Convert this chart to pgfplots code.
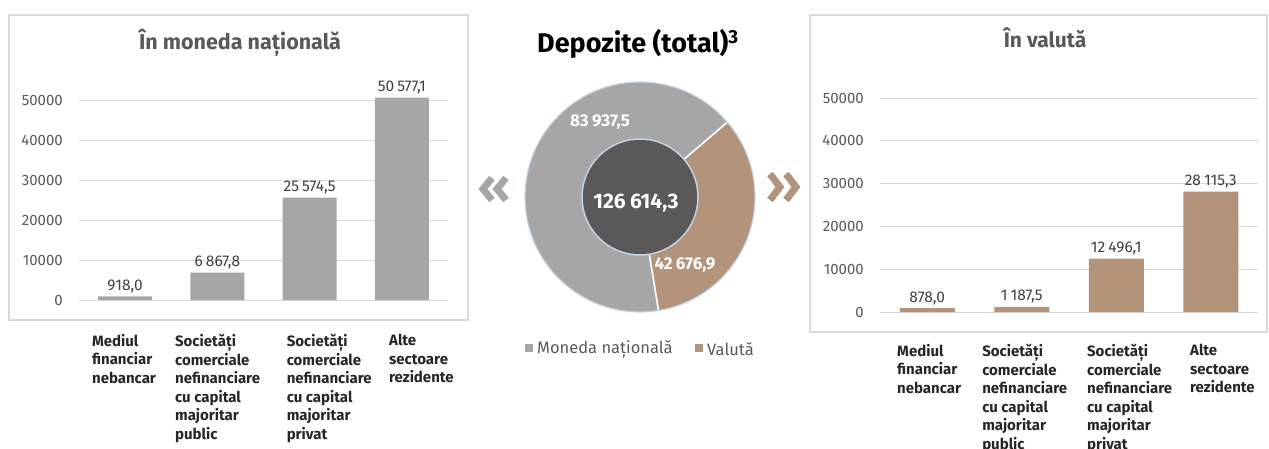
\documentclass[border=0pt]{standalone}
\usepackage{fontspec}
\setmainfont{Fira Sans}
\usepackage{xfp}
\usepackage{pgfplots}
\pgfplotsset{compat=1.18}

\definecolor{barGrey}{HTML}{A6A6A6}
\definecolor{barBrown}{HTML}{B4937B}
\definecolor{innerDark}{HTML}{595959}
\definecolor{outl}{HTML}{C3D3E3}
\definecolor{gridc}{HTML}{D9D9D9}
\definecolor{boxc}{HTML}{D9D9D9}
\definecolor{tickc}{HTML}{595959}
\definecolor{labc}{HTML}{404040}
\definecolor{catc}{HTML}{262626}
\definecolor{titlec}{HTML}{595959}

\pgfplotsset{
  barchart/.style={
    scale only axis, anchor=south west, clip=false,
    xmin=-0.5, xmax=3.5, ymin=0, ymax=50000,
    axis line style={draw=none}, major tick length=0pt, tick style={draw=none},
    ymajorgrids, grid style={draw=gridc, line width=0.9pt},
    ytick={0,10000,20000,30000,40000,50000},
    scaled y ticks=false,
    /pgf/number format/assume math mode=true,
    yticklabel style={font=\fontsize{15}{18}\selectfont, text=tickc, inner sep=0pt, anchor=east, xshift=-16pt,
      /pgf/number format/fixed, /pgf/number format/1000 sep={}},
    xticklabel style={font=\bfseries\fontsize{15}{18.5}\selectfont, text=catc, anchor=north west, align=left, inner sep=0pt},
    nodes near coords style={font=\fontsize{15.5}{18}\selectfont, text=labc},
  },
  barplot/.style={ybar, draw=none, fill=#1,
    nodes near coords={\pgfmathprintnumber[fixed, fixed zerofill, precision=1, use comma, 1000 sep={\hspace{0.2em}}]{\pgfplotspointmeta}}},
}

\begin{document}
\begin{tikzpicture}[x=1pt,y=1pt]
\useasboundingbox (0,0) rectangle (1269,448);

% frames
\draw[boxc, line width=1.2pt] (9,128) rectangle (468,433);
\draw[boxc, line width=1.2pt] (810,116) rectangle (1267,433);

% titles
\node[anchor=base, font=\bfseries\fontsize{21.5}{24}\selectfont, text=titlec] at (240,398) {În moneda națională};
\node[anchor=base, font=\bfseries\fontsize{21}{24}\selectfont, text=titlec] at (1045,400) {În valută};
\node[anchor=base, font=\bfseries\fontsize{27}{30}\selectfont, text=black] at (638,395) {Depozite (total)\textsuperscript{3}};

% left chart
\begin{axis}[barchart, at={(79pt,148pt)}, width=369pt, height=200pt,
  xtick={-0.36,0.54,1.75,2.86},
  xticklabels={{Mediul\\financiar\\nebancar},{Societăți\\comerciale\\nefinanciare\\cu capital\\majoritar\\public},{Societăți\\comerciale\\nefinanciare\\cu capital\\majoritar\\privat},{Alte\\sectoare\\rezidente}},
  xticklabel style={yshift=-34pt}]
\addplot[barplot=barGrey, bar width=54pt] coordinates {(0,918.0) (1,6867.8) (2,25574.5) (3,50577.1)};
\end{axis}

% right chart
\begin{axis}[barchart, at={(880pt,136pt)}, width=378pt, height=214pt,
  xtick={-0.32,0.58,1.69,2.78},
  xticklabels={{Mediul\\financiar\\nebancar},{Societăți\\comerciale\\nefinanciare\\cu capital\\majoritar\\public},{Societăți\\comerciale\\nefinanciare\\cu capital\\majoritar\\privat},{Alte\\sectoare\\rezidente}},
  xticklabel style={yshift=-32pt}]
\addplot[barplot=barBrown, bar width=55pt] coordinates {(0,878.0) (1,1187.5) (2,12496.1) (3,28115.3)};
\end{axis}

% donut
\def\vMN{83937.5}
\def\vVal{42676.9}
\edef\aStart{40.6}
\edef\aMid{\fpeval{round(40.6+360*\vMN/(\vMN+\vVal),3)}}
\edef\aEnd{\fpeval{40.6+360}}
\coordinate (C) at (640,251);
\fill[barGrey] (C) -- ++(\aStart:115) arc[start angle=\aStart, end angle=\aMid, radius=115] -- cycle;
\fill[barBrown] (C) -- ++(\aMid:115) arc[start angle=\aMid, end angle=\aEnd, radius=115] -- cycle;
\draw[white!85!outl, line width=1.8pt] (C) -- ++(\aStart:115);
\draw[white!85!outl, line width=1.8pt] (C) -- ++(\aMid:115);
\draw[outl, line width=1.2pt] (C) circle[radius=115];
\fill[innerDark] (C) circle[radius=58];
\draw[outl, line width=1.5pt] (C) circle[radius=58];
\node[font=\bfseries\fontsize{21}{24}\selectfont, text=white] at (636,245) {126\hspace{0.2em}614,3};
\node[font=\bfseries\fontsize{17}{20}\selectfont, text=white] at (600,326) {83\hspace{0.2em}937,5};
\node[font=\bfseries\fontsize{17}{20}\selectfont, text=white] at (685,183) {42\hspace{0.2em}676,9};

% chevrons
\draw[barGrey, line width=7pt, miter limit=10] (492,270) -- (483,259) -- (492,248);
\draw[barGrey, line width=7pt, miter limit=10] (506,270) -- (497,259) -- (506,248);
\draw[barBrown, line width=7pt, miter limit=10] (770,274) -- (780,261) -- (770,248);
\draw[barBrown, line width=7pt, miter limit=10] (786,274) -- (796,261) -- (786,248);

% legend
\fill[barGrey] (525,96) rectangle (533,104);
\node[anchor=west, inner sep=0pt, font=\fontsize{16.5}{19}\selectfont, text=tickc] at (537,99) {Moneda națională};
\fill[barBrown] (695,96) rectangle (703,104);
\node[anchor=west, inner sep=0pt, font=\fontsize{16.5}{19}\selectfont, text=tickc] at (707,99) {Valută};
\end{tikzpicture}
\end{document}
